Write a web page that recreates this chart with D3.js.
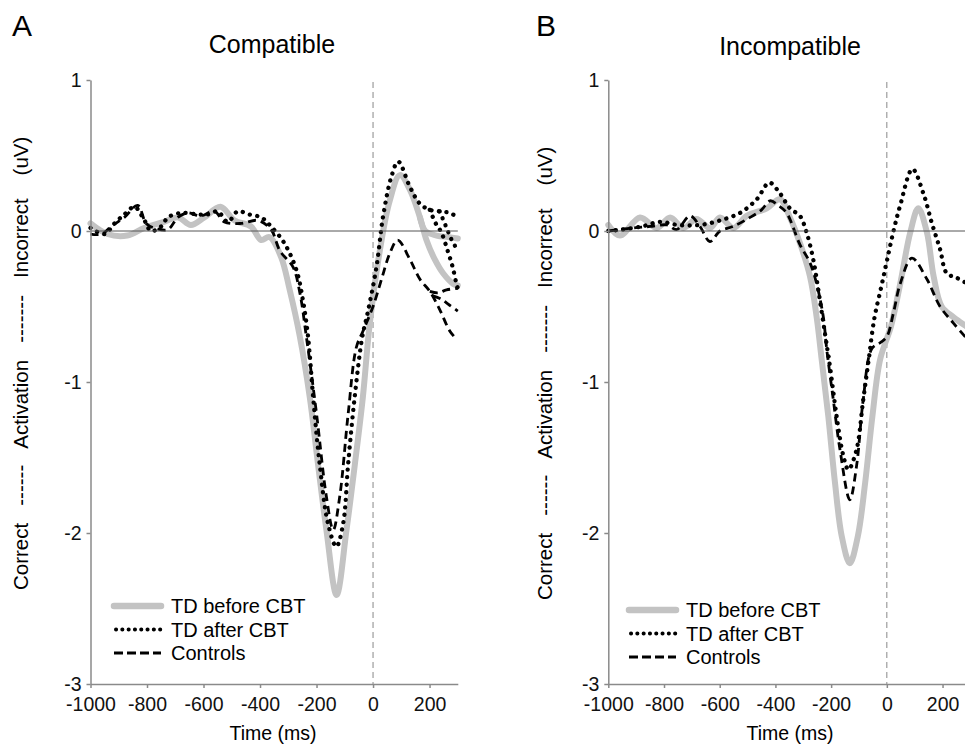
<!DOCTYPE html>
<html>
<head>
<meta charset="utf-8">
<script src="https://cdn.jsdelivr.net/npm/d3@7"></script>
<style>
  body { margin: 0; background: #fff; }
  svg { display: block; }
</style>
</head>
<body>
<div id="graph"></div>
<script>
// [time (ms), activation (uV)]
const beforeA = [[-1000,0.05],[-940,-0.02],[-870,-0.03],[-810,0.02],[-740,0.06],[-690,0.09],[-645,0.04],[-597,0.09],[-540,0.16],[-490,0.07],[-432,0.03],[-396,-0.06],[-367,-0.04],[-326,-0.17],[-295,-0.39],[-259,-0.70],[-224,-1.10],[-195,-1.54],[-165,-1.98],[-129,-2.41],[-94,-1.98],[-64,-1.54],[-36,-1.10],[-12,-0.62],[24,-0.13],[59,0.20],[95,0.37],[131,0.27],[166,0.09],[189,-0.06],[219,-0.19],[248,-0.28],[284,-0.35],[300,-0.36]];
const beforeATails = [[[166,0.09],[185,0.0],[225,-0.03],[265,-0.04],[300,-0.05]]];
const afterA = [[-1000,0.02],[-950,-0.02],[-915,0.05],[-880,0.11],[-844,0.16],[-809,0.07],[-786,0.0],[-750,0.03],[-726,0.09],[-679,0.12],[-620,0.11],[-585,0.11],[-550,0.13],[-514,0.06],[-479,0.13],[-440,0.11],[-396,0.09],[-361,0.03],[-314,-0.08],[-271,-0.26],[-248,-0.46],[-230,-0.70],[-212,-1.10],[-189,-1.54],[-159,-1.94],[-130,-2.09],[-106,-1.94],[-88,-1.54],[-65,-1.10],[-38,-0.70],[-20,-0.55],[12,-0.24],[35,0.09],[65,0.36],[89,0.46],[131,0.29],[166,0.18],[201,0.14],[236,0.13],[271,0.12],[300,0.09]];
const afterATails = [
  [[201,0.14],[222,0.05],[242,-0.01],[264,-0.13],[282,-0.24],[294,-0.34],[300,-0.38]],
  [[236,0.13],[256,0.04],[276,-0.05],[300,-0.13]]
];
const controlsA = [[-1000,-0.02],[-960,-0.02],[-927,0.03],[-880,0.09],[-833,0.17],[-803,0.05],[-774,0.02],[-726,0.01],[-691,0.09],[-656,0.12],[-610,0.10],[-561,0.13],[-526,0.06],[-467,0.05],[-408,0.07],[-361,0.01],[-330,-0.13],[-283,-0.24],[-259,-0.41],[-236,-0.70],[-200,-1.21],[-165,-1.76],[-141,-1.98],[-118,-1.76],[-88,-1.21],[-59,-0.77],[-35,-0.66],[0,-0.50],[30,-0.32],[59,-0.15],[87,-0.06],[131,-0.19],[166,-0.32],[201,-0.40],[236,-0.52],[271,-0.66],[297,-0.72]];
const controlsATails = [
  [[201,-0.40],[230,-0.41],[260,-0.39],[300,-0.38]],
  [[212,-0.43],[240,-0.45],[270,-0.49],[300,-0.53]]
];

const beforeB = [[-1000,0.04],[-958,-0.03],[-886,0.09],[-826,0.02],[-778,0.09],[-731,0.02],[-683,0.08],[-635,0.02],[-599,0.09],[-551,0.02],[-503,0.10],[-431,0.15],[-384,0.21],[-348,0.09],[-312,-0.08],[-276,-0.30],[-252,-0.57],[-234,-0.85],[-210,-1.23],[-186,-1.67],[-162,-2.02],[-133,-2.20],[-104,-2.02],[-78,-1.67],[-52,-1.23],[-24,-0.85],[15,-0.63],[48,-0.35],[84,-0.01],[113,0.15],[144,-0.01],[168,-0.30],[197,-0.50],[239,-0.57],[300,-0.65]];
const afterB = [[-1000,0.0],[-950,0.01],[-880,0.03],[-814,0.06],[-750,0.04],[-671,0.04],[-599,0.07],[-527,0.12],[-467,0.21],[-422,0.32],[-384,0.25],[-348,0.15],[-312,0.10],[-288,-0.01],[-264,-0.19],[-246,-0.39],[-222,-0.68],[-204,-0.90],[-180,-1.23],[-156,-1.49],[-138,-1.58],[-109,-1.45],[-85,-1.12],[-65,-0.85],[-45,-0.58],[-20,-0.37],[0,-0.20],[24,0.0],[48,0.17],[92,0.41],[131,0.25],[162,0.05],[191,-0.12],[215,-0.28],[251,-0.31],[300,-0.36]];
const controlsB = [[-1000,0.0],[-911,0.02],[-850,0.03],[-790,0.04],[-754,0.01],[-707,0.10],[-671,0.03],[-635,-0.07],[-599,0.0],[-552,0.03],[-491,0.09],[-450,0.14],[-419,0.20],[-390,0.17],[-360,0.12],[-312,-0.09],[-276,-0.21],[-252,-0.35],[-228,-0.57],[-216,-0.78],[-192,-1.12],[-168,-1.45],[-133,-1.78],[-109,-1.56],[-85,-1.12],[-54,-0.78],[-24,-0.74],[0,-0.70],[24,-0.54],[48,-0.35],[90,-0.18],[144,-0.32],[191,-0.50],[239,-0.61],[300,-0.74]];

const xTicks = [-1000,-800,-600,-400,-200,0,200];
const yTicks = [-3,-2,-1,0,1];
const seriesNames = ["TD before CBT", "TD after CBT", "Controls"];

const FONT = "'Liberation Sans', Arial, Helvetica, sans-serif";
const fullwidth = 965;
const fullheight = 746;

const svg = d3.select("#graph")
  .append("svg")
  .attr("width", fullwidth)
  .attr("height", fullheight)
  .style("font-family", FONT);

// line styles, same order as seriesNames
const styles = [
  { stroke: "#c3c3c3", width: 6, dash: null, cap: "round" },
  { stroke: "#000", width: 4.3, dash: "0.1 7.4", cap: "round" },
  { stroke: "#000", width: 2.8, dash: "8 5", cap: "butt" }
];

const y = d3.scaleLinear().domain([-3, 1]).range([684, 80]);

function drawPanel(p) {
  const x = d3.scaleLinear().domain([-1000, 300]).range(p.xRange);
  const g = svg.append("g");

  // panel letter + title
  g.append("text").attr("x", p.letterX).attr("y", 36)
    .style("font-size", "30px").text(p.letter);
  g.append("text").attr("x", p.titleX).attr("y", p.titleY)
    .attr("text-anchor", "middle").style("font-size", "25px").text(p.title);

  // vertical dashed line at response onset
  g.append("line")
    .attr("x1", x(0)).attr("x2", x(0))
    .attr("y1", y(1) + 2).attr("y2", y(-3))
    .attr("stroke", "#888").attr("stroke-width", 1)
    .attr("stroke-dasharray", "6 4");

  const line = d3.line()
    .x(d => x(d[0])).y(d => y(d[1]))
    .curve(d3.curveCatmullRom.alpha(0.5));

  p.series.forEach((s, i) => {
    const st = styles[i];
    [s.main].concat(s.tails || []).forEach(pts => {
      g.append("path")
        .datum(pts)
        .attr("d", line)
        .attr("fill", "none")
        .attr("stroke", st.stroke)
        .attr("stroke-width", st.width)
        .attr("stroke-linecap", st.cap)
        .attr("stroke-linejoin", "round")
        .attr("stroke-dasharray", st.dash);
    });
  });

  // zero line
  g.append("line")
    .attr("x1", x(-1000)).attr("x2", x(300))
    .attr("y1", y(0)).attr("y2", y(0))
    .attr("stroke", "#555").attr("stroke-width", 1);

  // axes
  const yAxis = g.append("g")
    .attr("transform", `translate(${x(-1000)},0)`)
    .call(d3.axisLeft(y).tickValues(yTicks).tickSize(4).tickSizeOuter(0).tickPadding(5).tickFormat(d => String(d)));
  const xAxis = g.append("g")
    .attr("transform", `translate(0,${y(-3)})`)
    .call(d3.axisBottom(x).tickValues(xTicks).tickSize(4).tickSizeOuter(0).tickPadding(9).tickFormat(d => String(d)));
  [yAxis, xAxis].forEach(a => {
    a.select(".domain").attr("stroke", "#8a8a8a").attr("stroke-width", 1.5);
    a.selectAll(".tick line").attr("stroke", "#8a8a8a").attr("stroke-width", 1.5);
    a.selectAll("text").attr("fill", "#111").style("font-size", "19.5px").style("font-family", FONT);
  });
  yAxis.selectAll("text").attr("dy", "0.33em");

  // axis titles
  g.append("text")
    .attr("transform", `translate(${p.yLabelX},${p.yLabelY}) rotate(-90)`)
    .style("font-size", "20.5px")
    .attr("xml:space", "preserve")
    .text("Correct   ------   Activation   -------   Incorrect    (uV)");
  g.append("text")
    .attr("x", p.timeX).attr("y", 740)
    .attr("text-anchor", "middle").style("font-size", "19.5px")
    .text("Time (ms)");

  // legend
  const legend = g.append("g").attr("transform", `translate(${p.legendX},${p.legendY})`);
  seriesNames.forEach((name, i) => {
    const st = styles[i];
    legend.append("line")
      .attr("x1", i === 1 ? 2 : 0).attr("x2", 47)
      .attr("y1", i * 23.5).attr("y2", i * 23.5)
      .attr("stroke", st.stroke)
      .attr("stroke-width", i === 0 ? 6.5 : (i === 1 ? 4 : 3))
      .attr("stroke-linecap", st.cap)
      .attr("stroke-dasharray", i === 2 ? "9 4" : (i === 1 ? "0.1 6.2" : null));
    legend.append("text")
      .attr("x", 57).attr("y", i * 23.5 + 7)
      .style("font-size", "20px")
      .text(name);
  });
}

drawPanel({
  letter: "A", letterX: 12, title: "Compatible", titleX: 272, titleY: 53,
  xRange: [90.5, 457.8], yLabelX: 28, yLabelY: 590, timeX: 273,
  legendX: 114, legendY: 606,
  series: [
    { main: beforeA, tails: beforeATails },
    { main: afterA, tails: afterATails },
    { main: controlsA, tails: controlsATails }
  ]
});

drawPanel({
  letter: "B", letterX: 536, title: "Incompatible", titleX: 790, titleY: 55,
  xRange: [608.3, 970.4], yLabelX: 552, yLabelY: 600, timeX: 790,
  legendX: 629, legendY: 610,
  series: [
    { main: beforeB },
    { main: afterB },
    { main: controlsB }
  ]
});
</script>
</body>
</html>
